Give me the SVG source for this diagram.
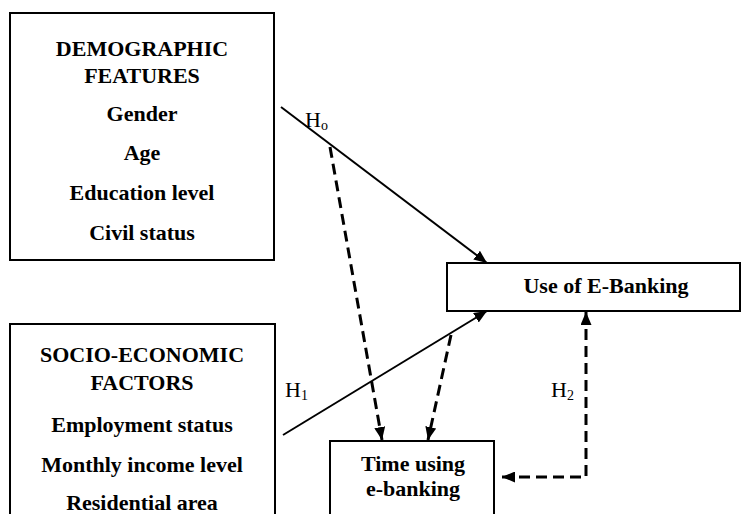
<svg xmlns="http://www.w3.org/2000/svg" width="742" height="514" viewBox="0 0 742 514">
<style>
.box{fill:#fff;stroke:#000;stroke-width:2}
.t{font-family:"Liberation Serif","Times New Roman",serif;font-weight:bold;font-size:22px;text-anchor:middle;fill:#000}
.h{font-family:"Liberation Serif","Times New Roman",serif;font-size:22px;fill:#000}
.sub{font-size:14px}
.ln{fill:none;stroke:#000;stroke-width:2}
.dash{stroke-width:3;stroke-dasharray:11 6}
</style>
<defs>
<marker id="ah" viewBox="0 0 13 11" refX="13" refY="5.5" markerWidth="13" markerHeight="11" markerUnits="userSpaceOnUse" orient="auto-start-reverse">
<path d="M0,0 L13,5.5 L0,11 Z" fill="#000"/>
</marker>
</defs>
<rect width="742" height="514" fill="#fff"/>
<g id="demographic">
<rect class="box" x="10" y="13" width="264" height="247"/>
<text class="t" x="142" y="56">DEMOGRAPHIC</text>
<text class="t" x="142" y="83">FEATURES</text>
<text class="t" x="142" y="121">Gender</text>
<text class="t" x="142" y="160">Age</text>
<text class="t" x="142" y="200">Education level</text>
<text class="t" x="142" y="240">Civil status</text>
</g>
<g id="socio">
<rect class="box" x="10" y="324" width="265" height="200"/>
<text class="t" x="142" y="362">SOCIO-ECONOMIC</text>
<text class="t" x="142" y="390">FACTORS</text>
<text class="t" x="142" y="432">Employment status</text>
<text class="t" x="142" y="472">Monthly income level</text>
<text class="t" x="142" y="510">Residential area</text>
</g>
<g id="use">
<rect class="box" x="447" y="263" width="293" height="48"/>
<text class="t" x="606" y="293">Use of E-Banking</text>
</g>
<g id="time">
<rect class="box" x="330" y="441" width="164" height="80"/>
<text class="t" x="413" y="471">Time using</text>
<text class="t" x="413" y="496">e-banking</text>
</g>
<g id="connectors">
<line class="ln" x1="281" y1="107" x2="487" y2="263" marker-end="url(#ah)"/>
<line class="ln" x1="283" y1="435" x2="487" y2="311" marker-end="url(#ah)"/>
<line class="ln dash" x1="330" y1="147" x2="382" y2="440" marker-end="url(#ah)"/>
<line class="ln dash" x1="451" y1="335" x2="428" y2="440" marker-end="url(#ah)"/>
<path class="ln dash" d="M502,477 H586 V312" marker-start="url(#ah)" marker-end="url(#ah)"/>
</g>
<g id="labels">
<text class="h" x="305" y="127">H<tspan class="sub" dy="3">o</tspan></text>
<text class="h" x="285" y="397">H<tspan class="sub" dy="3">1</tspan></text>
<text class="h" x="551" y="397">H<tspan class="sub" dy="3">2</tspan></text>
</g>
</svg>
